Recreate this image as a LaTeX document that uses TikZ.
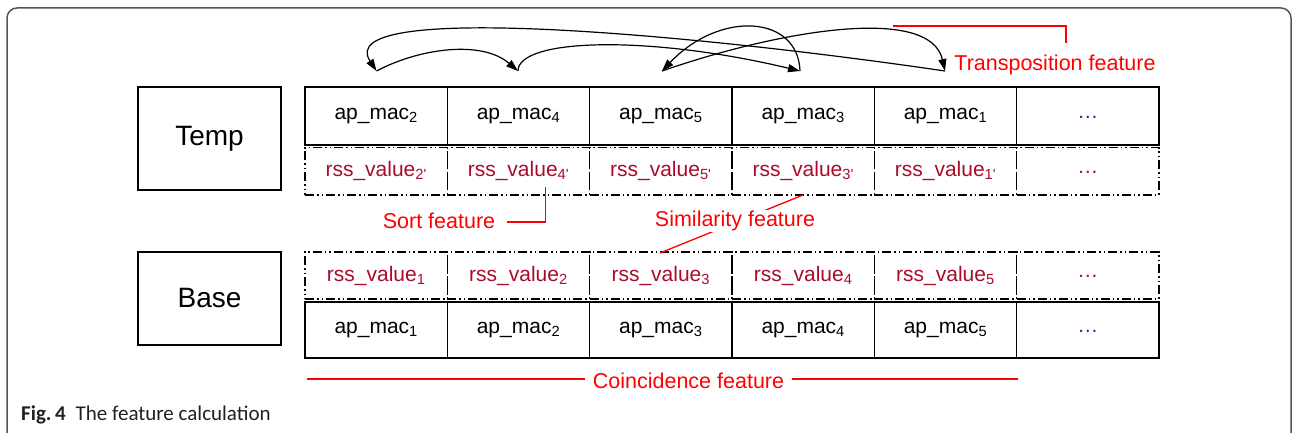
\documentclass[tikz,border=0pt]{standalone}
\usepackage{fontspec}
\setmainfont{Liberation Sans}
\newfontfamily\capfont{Carlito}
\usetikzlibrary{arrows.meta}
\definecolor{rssred}{RGB}{168,12,42}
\definecolor{dotblue}{RGB}{40,40,180}
\definecolor{lblred}{RGB}{255,0,0}
\definecolor{framegray}{RGB}{85,85,85}
\begin{document}
\begin{tikzpicture}[x=1pt,y=-1pt,
  cellfont/.style={font=\fontsize{21}{25}\selectfont},
  apcell/.style={draw, line width=1.2pt, minimum width=142.33pt, minimum height=58pt, inner sep=0pt, cellfont},
  apcellb/.style={apcell, minimum height=56pt},
  rsscell/.style={draw, line width=1.2pt, dash pattern=on 9pt off 3pt on 1.5pt off 3pt on 1.5pt off 3pt,
     minimum width=142.33pt, minimum height=47.5pt, inner sep=0pt, text=rssred, cellfont},
  rsscellb/.style={rsscell, minimum height=47pt},
  setbox/.style={draw, line width=1.2pt, minimum width=143pt, inner sep=0pt, font=\fontsize{28}{32}\selectfont},
  lbl/.style={text=lblred, font=\fontsize{21.5}{25}\selectfont, inner sep=1pt},
  lblline/.style={draw=lblred, line width=1.3pt},
  arr/.style={line width=1.2pt, -{Triangle[length=12pt,width=8pt]}},
]
\useasboundingbox (0,0) rectangle (1292,433);
% frame
\draw[framegray, line width=1.5pt, rounded corners=10pt] (7,440) -- (7,8) -- (1291,8) -- (1291,440);

% set boxes
\node[setbox, minimum height=103pt] (temp) at (209.5,138.5) {Temp};
\node[setbox, minimum height=93pt] (base) at (209.5,298.5) {Base};

% Temp rows
\node[apcell] (ta1) at (376.2,116) {ap\_mac\textsubscript{2}};
\node[apcell] (ta2) at (518.5,116) {ap\_mac\textsubscript{4}};
\node[apcell] (ta3) at (660.8,116) {ap\_mac\textsubscript{5}};
\node[apcell] (ta4) at (803.2,116) {ap\_mac\textsubscript{3}};
\node[apcell] (ta5) at (945.5,116) {ap\_mac\textsubscript{1}};
\node[apcell, text=dotblue] (ta6) at (1087.8,116) {\raisebox{-4pt}{\dots}};

\node[rsscell] (tr1) at (376.2,171.25) {rss\_value\textsubscript{2\textquotesingle}};
\node[rsscell] (tr2) at (518.5,171.25) {rss\_value\textsubscript{4\textquotesingle}};
\node[rsscell] (tr3) at (660.8,171.25) {rss\_value\textsubscript{5\textquotesingle}};
\node[rsscell] (tr4) at (803.2,171.25) {rss\_value\textsubscript{3\textquotesingle}};
\node[rsscell] (tr5) at (945.5,171.25) {rss\_value\textsubscript{1\textquotesingle}};
\node[rsscell] (tr6) at (1087.8,171.25) {\raisebox{-4pt}{\dots}};

% Base rows
\node[rsscellb] (br1) at (376.2,275.5) {rss\_value\textsubscript{1}};
\node[rsscellb] (br2) at (518.5,275.5) {rss\_value\textsubscript{2}};
\node[rsscellb] (br3) at (660.8,275.5) {rss\_value\textsubscript{3}};
\node[rsscellb] (br4) at (803.2,275.5) {rss\_value\textsubscript{4}};
\node[rsscellb] (br5) at (945.5,275.5) {rss\_value\textsubscript{5}};
\node[rsscellb] (br6) at (1087.8,275.5) {\raisebox{-4pt}{\dots}};

\node[apcellb] (ba1) at (376.2,330) {ap\_mac\textsubscript{1}};
\node[apcellb] (ba2) at (518.5,330) {ap\_mac\textsubscript{2}};
\node[apcellb] (ba3) at (660.8,330) {ap\_mac\textsubscript{3}};
\node[apcellb] (ba4) at (803.2,330) {ap\_mac\textsubscript{4}};
\node[apcellb] (ba5) at (945.5,330) {ap\_mac\textsubscript{5}};
\node[apcellb, text=dotblue] (ba6) at (1087.8,330) {\raisebox{-4pt}{\dots}};

% arrow end points
\coordinate (p1) at (376.5,71);
\coordinate (p2) at (518,71);
\coordinate (p3) at (662,71);
\coordinate (p4) at (800,71);
\coordinate (p5) at (945,71);

\draw[arr] (p5) .. controls (700,35) and (330,0) .. (p1);
\draw[arr] (p1) .. controls (420,48) and (482,40) .. (p2);
\draw[arr] (p2) .. controls (518,38) and (650,35) .. (p4);
\draw[arr] (p4) .. controls (798,15) and (720,10) .. (p3);
\draw[arr] (p3) .. controls (780,30) and (930,5) .. (p5);

% Transposition feature
\node[lbl] (trans) at (1055,65) {Transposition feature};
\coordinate (tr0) at (893,26);
\coordinate (tr1c) at (1066,43);
\draw[lblline] (tr0) -| (tr1c);

% Sort feature
\node[lbl] (sort) at (439,221) {Sort feature};
\coordinate (so0) at (507,222);
\coordinate (so1) at (545.5,187);
\draw[lblline] (so0) -| (so1);

% Similarity feature
\coordinate (si0) at (803,195);
\coordinate (si1) at (660,253);
\draw[lblline] (si0) -- (si1);
\node[lbl, fill=white, inner xsep=2pt] (sim) at (735,221) {Similarity feature};

% Coincidence feature
\coordinate (co0) at (307,379);
\coordinate (co1) at (1018,379);
\draw[lblline] (co0) -- (co1);
\node[lbl, fill=white, inner xsep=8pt] (coin) at (688.5,381) {Coincidence feature};

% caption
\node[anchor=base west, inner sep=0pt, text={rgb,255:red,35;green,31;blue,32}] (cap) at (21,420)
  {\capfont\fontsize{21}{24}\selectfont\textbf{Fig.\,4}\hspace{10pt}The feature calculation};
\end{tikzpicture}
\end{document}
